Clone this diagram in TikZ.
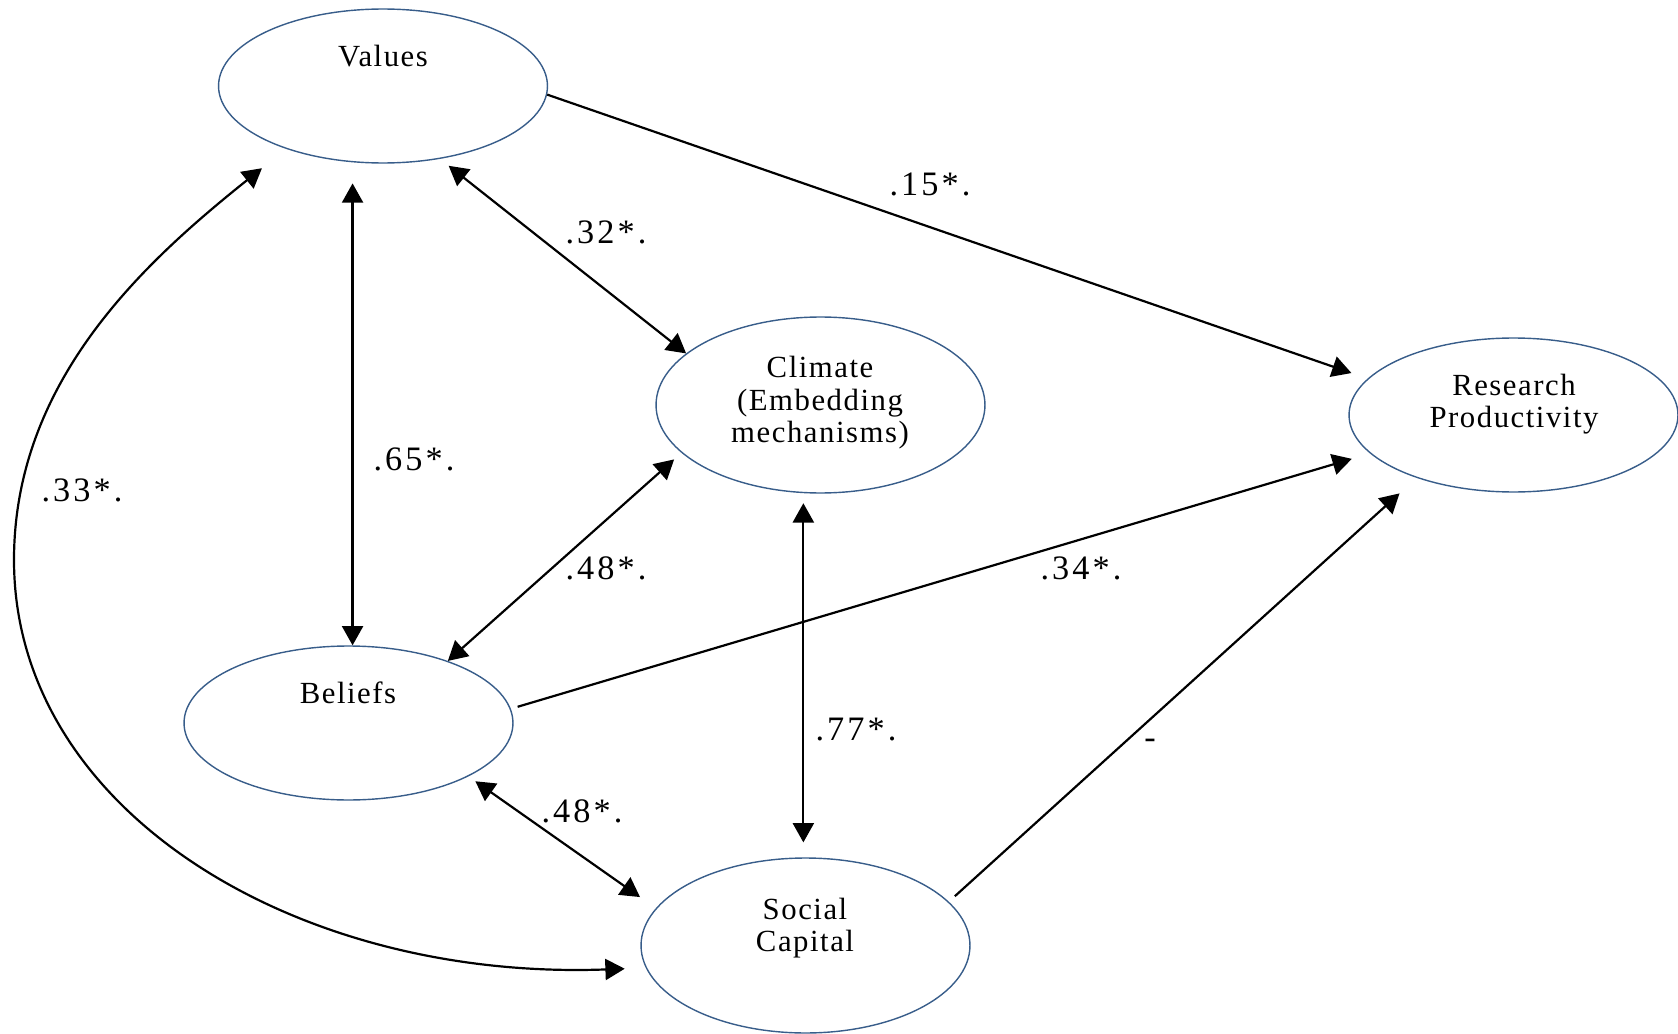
\documentclass[tikz,border=0pt]{standalone}
\usepackage{fontspec}
\setmainfont{Liberation Serif}
\newfontfamily\boxfont[LetterSpace=5]{Liberation Serif}
\newfontfamily\weightfont[LetterSpace=9]{Liberation Serif}
\usetikzlibrary{arrows.meta,shapes.geometric}
\definecolor{rim}{RGB}{56,93,138}
\tikzset{
  construct/.style={
    shape = ellipse,
    draw = rim,
    line width = 0.8pt,
    inner sep = 0pt,
    minimum width = 6.58cm,
    minimum height = 3.08cm
  },
  caption/.style={
    inner sep = 0pt,
    align = center,
    font = \boxfont\fontsize{17.5pt}{18.5pt}\selectfont
  },
  weight/.style={
    inner sep = 0pt,
    font = \weightfont\fontsize{19.5pt}{22pt}\selectfont
  },
  link/.style={
    line width = 1.25pt,
    -{Triangle[length=11pt,width=12pt]}
  },
  twoway/.style={
    line width = 1.25pt,
    {Triangle[length=11pt,width=12pt]}-{Triangle[length=11pt,width=12pt]}
  }
}

\begin{document}
\begin{tikzpicture}[x=0.02cm,y=-0.02cm]
    \useasboundingbox (0,0) rectangle (1678,1034);
    % constructs
    \node[construct] (v) at (383,86) {};
    \node[construct, minimum height=3.52cm] (c) at (820.5,405) {};
    \node[construct] (r) at (1513.5,415) {};
    \node[construct] (b) at (348.5,723) {};
    \node[construct, minimum height=3.5cm] (s) at (805.5,945.5) {};
    \node[caption] (vt) at (383,56) {Values};
    \node[caption] (ct) at (820,403) {Climate\\(Embedding\\mechanisms)};
    \node[caption] (rt) at (1514,404) {Research\\Productivity};
    \node[caption] (bt) at (348,693) {Beliefs};
    \node[caption] (st) at (805,928) {Social\\Capital};
    % paths
    \draw[link, shorten >=9.7pt] (v.-3) -- (r.166);
    \draw[twoway, shorten <=6.3pt] (v.-52) -- (c.159);
    \draw[twoway, shorten >=12pt] (b.87) -- (b.87 |- v.-112);
    \draw[twoway, shorten >=5.6pt] (b.32) -- (c.199);
    \draw[link, shorten <=4pt, shorten >=10.8pt] (b.5) -- (r.195);
    \draw[twoway, shorten <=5.7pt, shorten >=8.5pt] (c.-101) -- (c.-101 |- s.north);
    \draw[twoway, shorten <=4.8pt, shorten >=11pt] (b.-24) -- (s.166);
    \draw[link, shorten <=4.6pt, shorten >=13.1pt] (s.17) -- (r.213);
    \coordinate (sweep) at (14,560);
    \draw[twoway, shorten <=17.6pt, shorten >=12pt] (v.213)
        .. controls (146,261) and (14,380) .. (sweep)
        .. controls (14,810) and (295,981) .. (s.188);
    % weights
    \node[weight] (w15) at (930,184) {.15*.};
    \node[weight] (w32) at (606,232) {.32*.};
    \node[weight] (w65) at (414,459) {.65*.};
    \node[weight] (w48a) at (606,568) {.48*.};
    \node[weight] (w34) at (1081,568) {.34*.};
    \node[weight] (w77) at (856,730) {.77*.};
    \node[weight] (w48b) at (582,811) {.48*.};
    \node[weight] (wsr) at (1150,744) {-};
    \node[weight] (w33) at (82,490) {.33*.};
\end{tikzpicture}
\end{document}
